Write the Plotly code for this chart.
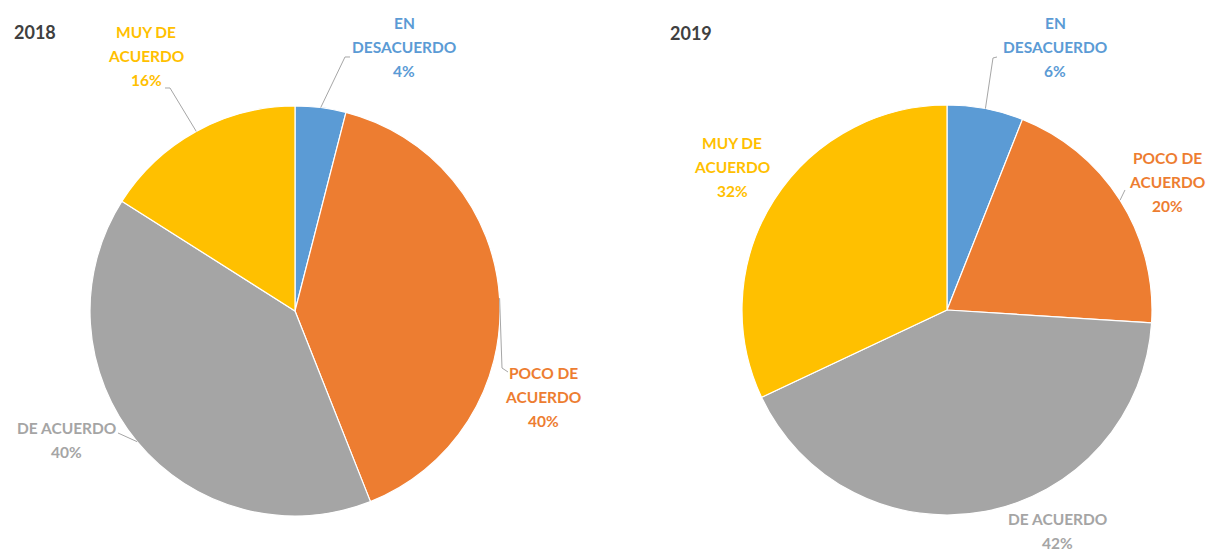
import math
import plotly.graph_objects as go

# ---- data ----
categories = ["EN DESACUERDO", "POCO DE ACUERDO", "DE ACUERDO", "MUY DE ACUERDO"]
years = ["2018", "2019"]
values_2018 = [4, 40, 40, 16]
values_2019 = [6, 20, 42, 32]
colors = ["#5B9BD5", "#ED7D31", "#A5A5A5", "#FFC000"]

# ---- layout helpers ----
W, H = 1210, 553
R = 205
FONT = "Lato"


def fx(x):
    return x / W


def fy(y):
    return 1 - y / H


centers = {"2018": (295, 311), "2019": (947, 310)}

label_lines = {
    "EN DESACUERDO": ["EN", "DESACUERDO"],
    "POCO DE ACUERDO": ["POCO DE", "ACUERDO"],
    "DE ACUERDO": ["DE ACUERDO"],
    "MUY DE ACUERDO": ["MUY DE", "ACUERDO"],
}
# label placement (centre x, first-line y) in pixels
label_pos = {
    "2018": {"EN DESACUERDO": (404, 23), "POCO DE ACUERDO": (543, 373),
             "DE ACUERDO": (66, 428), "MUY DE ACUERDO": (146, 32)},
    "2019": {"EN DESACUERDO": (1055, 23), "POCO DE ACUERDO": (1167, 158),
             "DE ACUERDO": (1057, 519), "MUY DE ACUERDO": (732, 143)},
}
# leader line tails (pixels) after the point on the slice edge
leader_tail = {
    "2018": {"EN DESACUERDO": [(345, 57), (350, 57)],
             "POCO DE ACUERDO": [(502, 368), (508, 372)],
             "DE ACUERDO": [(118, 433)],
             "MUY DE ACUERDO": [(170, 88), (165, 88)]},
    "2019": {"EN DESACUERDO": [(993, 58), (997, 57)],
             "POCO DE ACUERDO": [(1125, 190)]},
}
title_pos = {"2018": (12, 32), "2019": (668, 33)}
LINE_H = 24

fig = go.Figure()
annotations = []
shapes = []

for year, vals in zip(years, [values_2018, values_2019]):
    cx, cy = centers[year]
    fig.add_trace(go.Pie(
        labels=categories, values=vals, sort=False, direction="clockwise",
        rotation=0, marker=dict(colors=colors, line=dict(color="white", width=1.2)),
        textinfo="none", hoverinfo="label+percent", showlegend=False,
        domain=dict(x=[fx(cx - R), fx(cx + R)], y=[fy(cy + R), fy(cy - R)]),
    ))
    total = sum(vals)
    cum = 0
    for cat, v, col in zip(categories, vals, colors):
        mid = (cum + v / 2) / total * 2 * math.pi
        cum += v
        lx, ly = label_pos[year][cat]
        lines = label_lines[cat] + [f"{round(v / total * 100)}%"]
        for i, t in enumerate(lines):
            annotations.append(dict(
                x=fx(lx), y=fy(ly + i * LINE_H), xref="paper", yref="paper",
                text=t, showarrow=False, xanchor="center", yanchor="middle",
                font=dict(family=FONT, size=15.5, color=col, weight="bold"),
            ))
        tail = leader_tail[year].get(cat)
        if tail:
            sx = cx + R * math.sin(mid)
            sy = cy - R * math.cos(mid)
            pts = [(sx, sy)] + tail
            path = "M " + " L ".join(f"{fx(a):.5f},{fy(b):.5f}" for a, b in pts)
            shapes.append(dict(type="path", path=path, xref="paper", yref="paper",
                               line=dict(color="#A6A6A6", width=1)))
    tx, ty = title_pos[year]
    annotations.append(dict(
        x=fx(tx), y=fy(ty), xref="paper", yref="paper", text=year,
        showarrow=False, xanchor="left", yanchor="middle",
        font=dict(family=FONT, size=18, color="#404040", weight="bold"),
    ))

fig.update_layout(
    width=W, height=H, margin=dict(l=0, r=0, t=0, b=0),
    paper_bgcolor="white", plot_bgcolor="white",
    annotations=annotations, shapes=shapes,
)

fig.write_html(
    "out.html",
    config={"displayModeBar": False},
    post_script="document.body.style.margin='0px';document.body.style.overflow='hidden';",
)
